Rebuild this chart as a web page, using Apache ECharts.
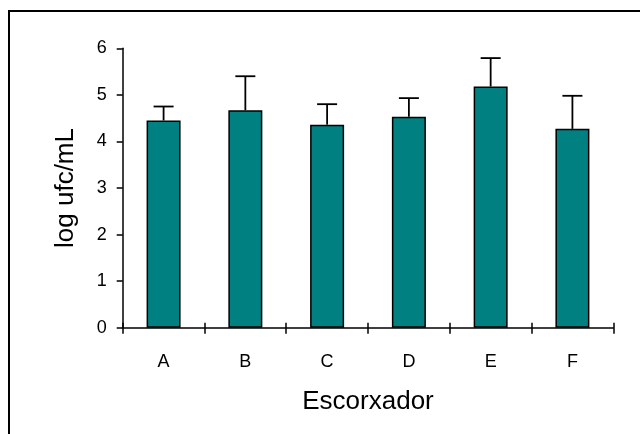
<!DOCTYPE html>
<html>
<head>
<meta charset="utf-8">
<script src="https://cdn.jsdelivr.net/npm/echarts@6/dist/echarts.min.js"></script>
<style>
html,body{margin:0;padding:0;background:#fff;}
#chart{width:640px;height:434px;}
</style>
</head>
<body>
<div id="chart"></div>
<script>
const categories = ['A', 'B', 'C', 'D', 'E', 'F'];
const means = [4.45, 4.67, 4.36, 4.53, 5.18, 4.27];
const errorTops = [4.75, 5.40, 4.80, 4.93, 5.79, 4.98];
const yTicks = [0, 1, 2, 3, 4, 5, 6];
const xTitle = 'Escorxador';
const yTitle = 'log ufc/mL';

const FONT = '"Liberation Sans", Arial, sans-serif';
const chart = echarts.init(document.getElementById('chart'), null, {renderer: 'canvas'});

const errData = categories.map((c, i) => [i, means[i], errorTops[i]]);

chart.setOption({
  animation: false,
  backgroundColor: '#ffffff',
  grid: {left: 122.7, right: 26.7, top: 48.3, bottom: 106.3, containLabel: false},
  graphic: [{
    type: 'rect',
    shape: {x: 9, y: 11, width: 700, height: 500},
    style: {fill: 'none', stroke: '#000', lineWidth: 2},
    silent: true, z: 100
  }],
  xAxis: [{
    type: 'category',
    data: categories,
    boundaryGap: true,
    name: xTitle,
    nameLocation: 'middle',
    nameGap: 61,
    nameTextStyle: {fontFamily: FONT, fontSize: 26, color: '#000'},
    axisLine: {lineStyle: {color: '#000', width: 1.5}},
    axisTick: {show: true, inside: false, length: 6, lineStyle: {color: '#000', width: 1.5}},
    axisLabel: {fontFamily: FONT, fontSize: 18, color: '#000', margin: 25},
    splitLine: {show: false}
  }, {
    type: 'category',
    data: categories,
    boundaryGap: true,
    position: 'bottom',
    axisLine: {show: false},
    axisTick: {show: true, inside: true, length: 5, lineStyle: {color: '#000', width: 1.5}},
    axisLabel: {show: false},
    splitLine: {show: false}
  }],
  yAxis: {
    type: 'value',
    min: 0, max: 6, interval: 1,
    name: yTitle,
    nameLocation: 'middle',
    nameGap: 44,
    nameRotate: 90,
    nameTextStyle: {fontFamily: FONT, fontSize: 26, color: '#000'},
    axisLine: {show: true, lineStyle: {color: '#000', width: 1.5}},
    axisTick: {show: true, length: 6, lineStyle: {color: '#000', width: 1.5}},
    axisLabel: {fontFamily: FONT, fontSize: 18, color: '#000', margin: 16,
      formatter: v => yTicks.includes(v) ? String(v) : ''},
    splitLine: {show: false}
  },
  series: [{
    type: 'bar',
    data: means,
    barWidth: 34,
    itemStyle: {color: '#008080', borderColor: '#000', borderWidth: 1.5},
    z: 2
  }, {
    type: 'custom',
    data: errData,
    z: 1,
    renderItem: function (params, api) {
      const i = api.value(0);
      const base = api.coord([i, api.value(1)]);
      const top = api.coord([i, api.value(2)]);
      const half = 10;
      return {
        type: 'group',
        children: [{
          type: 'line',
          shape: {x1: base[0], y1: base[1], x2: top[0], y2: top[1]},
          style: {stroke: '#000', lineWidth: 1.8}
        }, {
          type: 'line',
          shape: {x1: top[0] - half, y1: top[1], x2: top[0] + half, y2: top[1]},
          style: {stroke: '#000', lineWidth: 1.8}
        }]
      };
    }
  }]
});
</script>
</body>
</html>
